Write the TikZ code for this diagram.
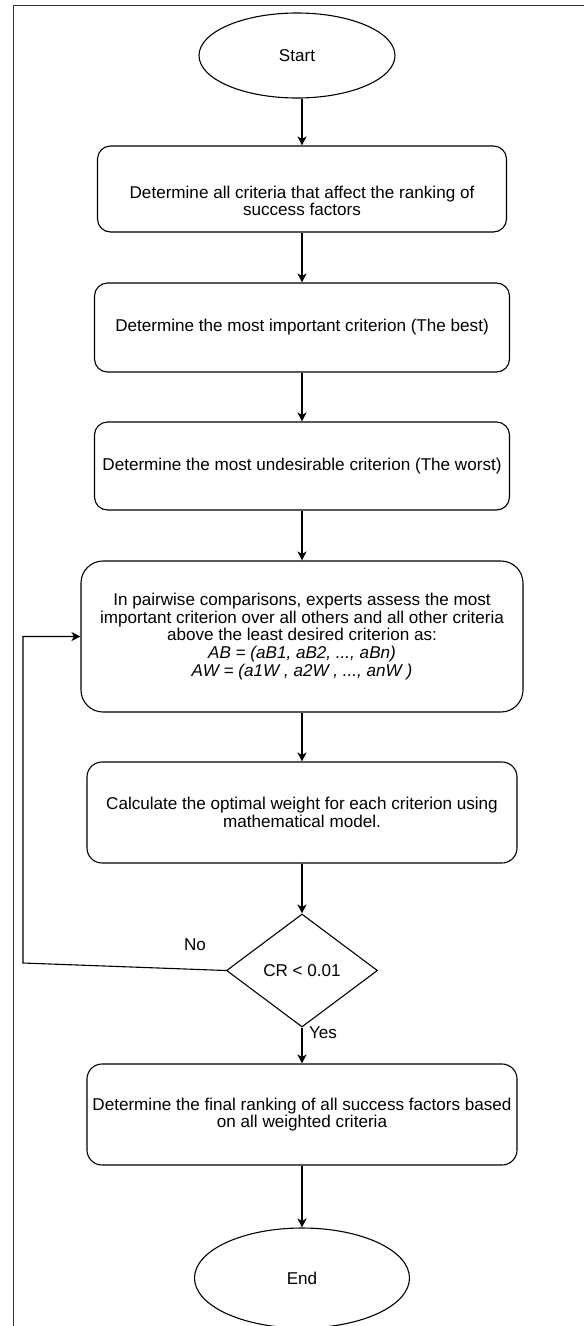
\documentclass[tikz,border=0pt]{standalone}
\usepackage{fontspec}
\setmainfont{Liberation Sans}
\usetikzlibrary{shapes.geometric,arrows.meta}
\newcommand{\txtsz}{\fontsize{17.1}{17.75}\selectfont}
\begin{document}
\begin{tikzpicture}[x=1pt,y=-1pt,
  box/.style={draw, line width=1.1pt, align=center, font=\txtsz, inner sep=0pt},
  oval/.style={draw, ellipse, line width=1.1pt, font=\txtsz, inner sep=0pt},
  dec/.style={draw, diamond, line width=1.1pt, font=\txtsz, inner sep=0pt, aspect=1.336},
  arr/.style={-{Stealth[length=9pt,width=9pt,inset=2.5pt]}, line width=1.1pt},
  lbl/.style={font=\txtsz, inner sep=0pt}]
\useasboundingbox (0,0) rectangle (584,1326);
% frame
\draw[line width=0.9pt, black!80] (13,1326) -- (13,5) -- (584,5);
% nodes
\node[oval, minimum width=196pt, minimum height=85pt] (start) at (297,55.5) {Start};
\node[box, rounded corners=13pt, minimum width=409pt, minimum height=86pt] (b1) at (302,189) {};
\node[align=center, font=\txtsz, inner sep=0pt] (b1t) at ([yshift=-12pt]b1.center) {Determine all criteria that affect the ranking of\\success factors};
\node[box, rounded corners=13pt, minimum width=415pt, minimum height=89pt] (b2) at (302,327.5) {Determine the most important criterion (The best)};
\node[box, rounded corners=13pt, minimum width=415pt, minimum height=88pt] (b3) at (302,466) {Determine the most undesirable criterion (The worst)};
\node[box, rounded corners=22pt, minimum width=442pt, minimum height=151pt] (b4) at (302,636.5) {In pairwise comparisons, experts assess the most\\important criterion over all others and all other criteria\\above the least desired criterion as:\\\textit{AB = (aB1, aB2, ..., aBn)}\\\textit{AW = (a1W , a2W , ..., anW )}};
\node[box, rounded corners=15pt, minimum width=430pt, minimum height=101pt] (b5) at (302,812.5) {Calculate the optimal weight for each criterion using\\mathematical model.};
\node[dec, minimum width=151pt, minimum height=113pt] (dia) at (302,970.5) {CR {<} 0.01};
\node[box, rounded corners=15pt, minimum width=430pt, minimum height=101pt] (b6) at (302,1114.5) {Determine the final ranking of all success factors based\\on all weighted criteria};
\node[oval, minimum width=215pt, minimum height=100pt] (end) at (302,1278) {End};
% labels
\node[lbl] (no) at (195,945) {No};
\node[lbl] (yes) at (323,1033) {Yes};
% coordinates for feedback loop
\coordinate (fb1) at (23,963);
\coordinate (fb2) at (23,636.5);
% connectors
\draw[arr] (b1.north |- start.south) -- (b1.north);
\draw[arr] (b1.south) -- (b2.north);
\draw[arr] (b2.south) -- (b3.north);
\draw[arr] (b3.south) -- (b4.north);
\draw[arr] (b4.south) -- (b5.north);
\draw[arr] (b5.south) -- (dia.north);
\draw[arr] (dia.south) -- (b6.north);
\draw[arr] (b6.south) -- (end.north);
\draw[arr] (dia.west) -- (fb1) -- (fb2) -- (b4.west);
\end{tikzpicture}
\end{document}
